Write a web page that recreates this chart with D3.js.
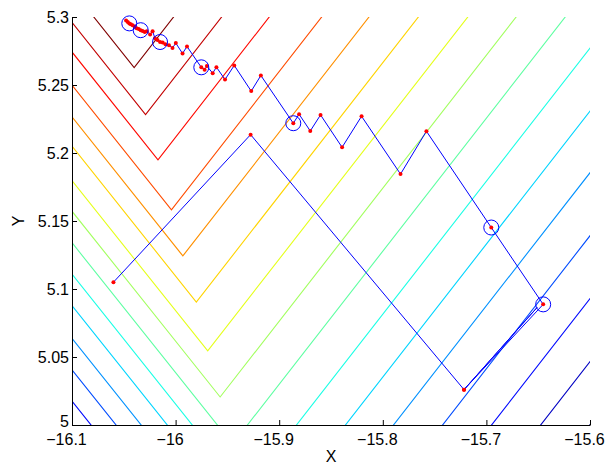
<!DOCTYPE html>
<html><head><meta charset="utf-8">
<script src="https://cdn.jsdelivr.net/npm/d3@7"></script>
<style>
body{margin:0;background:#fff;}
text{font-family:"Liberation Sans",Arial,Helvetica,sans-serif;}
</style>
</head><body><svg id="c" width="608" height="468"></svg>
<script>
// ---------- data ----------
const xTicks = [-16.1, -16, -15.9, -15.8, -15.7, -15.6];
const xTickLabels = ["\u221216.1", "\u221216", "\u221215.9", "\u221215.8", "\u221215.7", "\u221215.6"];
const yTicks = [5, 5.05, 5.1, 5.15, 5.2, 5.25, 5.3];
const yTickLabels = ["5", "5.05", "5.1", "5.15", "5.2", "5.25", "5.3"];

// contour levels (V-shaped): vertex of each level, high -> low
const levelVertexX = [-16.040, -16.029, -16.017, -16.004, -15.993, -15.980, -15.969, -15.957,
                      -15.945, -15.933, -15.921, -15.910, -15.898, -15.886, -15.874, -15.862];
const levelVertexY = [5.2628, 5.2282, 5.1950, 5.1582, 5.1243, 5.0904, 5.0545, 5.0206,
                      4.9860, 4.9514, 4.9169, 4.8823, 4.8477, 4.8132, 4.7786, 4.7440];
const leftBranchSlope = 0.955;
const rightBranchSlope = 0.978;

// search path
const pathX = [-16.060, -15.9276, -15.7216, -15.651, -15.7216, -15.6452, -15.6953, -15.7579,
               -15.7829, -15.8205, -15.8393, -15.8601, -15.870, -15.8808, -15.8864, -15.9177,
               -15.927, -15.9434, -15.9523, -15.9606, -15.9642, -15.9698, -15.972, -15.9752,
               -15.989, -15.9933, -15.9998, -16.003, -16.0064, -16.0098, -16.0125, -16.0150,
               -16.0175, -16.0199, -16.0222, -16.0246, -16.0278, -16.0298, -16.0318, -16.0337,
               -16.0356, -16.0376, -16.0395, -16.0415, -16.0432, -16.0447, -16.0462, -16.0478];
const pathY = [5.105, 5.2135, 5.026, 5.0865, 5.026, 5.0887, 5.1452, 5.216,
               5.1845, 5.227, 5.2042, 5.228, 5.2162, 5.2285, 5.2219, 5.257,
               5.2455, 5.2644, 5.254, 5.2631, 5.2587, 5.2639, 5.2612, 5.2630,
               5.2783, 5.2732, 5.2808, 5.2772, 5.2793, 5.2800, 5.2812, 5.2816,
               5.2830, 5.2843, 5.2896, 5.2872, 5.2895, 5.2890, 5.2897, 5.2903,
               5.2912, 5.2918, 5.2930, 5.2940, 5.2946, 5.2953, 5.2963, 5.2975];
const pathDot = [1,1,1,0,1,1,1,1, 1,1,1,1,1,1,1,1, 1,1,1,1,1,1,1,1,
                 1,1,1,1,1,1,1,1, 1,1,1,1,1,1,1,1, 1,1,1,1,1,1,1,1];

// accepted iterates (blue circles)
const circleX = [-15.6452, -15.6953, -15.8864, -15.9752, -16.0150, -16.0337, -16.0447];
const circleY = [5.0887, 5.1452, 5.2219, 5.2630, 5.2816, 5.2903, 5.2953];

// ---------- drawing ----------
const svg = d3.select("#c");
const L = 72, R = 590, T = 17, B = 425;
const x = d3.scaleLinear().domain([-16.1, -15.6]).range([L, R]);
const y = d3.scaleLinear().domain([5, 5.3]).range([B, T]);

svg.append("rect").attr("width", 608).attr("height", 468).attr("fill", "#fff");
svg.append("defs").append("clipPath").attr("id", "clip")
  .append("rect").attr("x", L).attr("y", T).attr("width", R - L).attr("height", B - T);

function jet(v) {
  const c = t => Math.max(0, Math.min(1, t));
  const r = c(1.5 - Math.abs(4 * v - 3)), g = c(1.5 - Math.abs(4 * v - 2)), b = c(1.5 - Math.abs(4 * v - 1));
  return d3.rgb(r * 255, g * 255, b * 255).formatHex();
}

const plot = svg.append("g").attr("clip-path", "url(#clip)");
const line = d3.line().x(d => x(d[0])).y(d => y(d[1]));
const n = levelVertexX.length;
levelVertexX.forEach((xv, i) => {
  const yv = levelVertexY[i];
  const xl = -16.3, xr = -15.4;
  const pts = [[xl, yv + leftBranchSlope * (xv - xl)], [xv, yv], [xr, yv + rightBranchSlope * (xr - xv)]];
  plot.append("path").attr("d", line(pts)).attr("fill", "none")
    .attr("stroke", jet(1 - i / (n - 1))).attr("stroke-width", 1.1);
});

const pathPts = pathX.map((v, i) => [v, pathY[i]]);
plot.append("path").attr("d", line(pathPts)).attr("fill", "none")
  .attr("stroke", "#0000ff").attr("stroke-width", 1);

plot.selectAll("circle.dot").data(pathPts.filter((d, i) => pathDot[i])).join("circle")
  .attr("class", "dot").attr("cx", d => x(d[0])).attr("cy", d => y(d[1])).attr("r", 2)
  .attr("fill", "#ff0000");

svg.selectAll("circle.acc").data(circleX.map((v, i) => [v, circleY[i]])).join("circle")
  .attr("class", "acc").attr("cx", d => x(d[0])).attr("cy", d => y(d[1])).attr("r", 7.5)
  .attr("fill", "none").attr("stroke", "#0000ff").attr("stroke-width", 1);

// axes
const xAxis = d3.axisBottom(x).tickValues(xTicks).tickFormat((d, i) => xTickLabels[i])
  .tickSizeInner(-5).tickSizeOuter(0).tickPadding(9);
const gx = svg.append("g").attr("transform", `translate(0,${B})`).call(xAxis);
const yAxis = d3.axisLeft(y).tickValues(yTicks).tickFormat((d, i) => yTickLabels[i])
  .tickSizeInner(-5).tickSizeOuter(0).tickPadding(3);
const gy = svg.append("g").attr("transform", `translate(${L},0)`).call(yAxis);
[gx, gy].forEach(g => {
  g.selectAll("text").attr("font-size", 16).attr("fill", "#000")
    .attr("font-family", "'Liberation Sans', Arial, sans-serif");
  g.selectAll("line").attr("stroke", "#000");
  g.select(".domain").attr("stroke", "#000");
});
// negative labels: digits centred on the tick, minus sign hanging to the left
gx.selectAll("text").attr("dx", -6);
// lowest y label sits slightly above its tick, clear of the x labels
gy.selectAll(".tick").filter(d => d === yTicks[0]).select("text").attr("y", -3.5);

svg.append("text").attr("x", (L + R) / 2).attr("y", 462).attr("text-anchor", "middle")
  .attr("font-size", 16).text("X");
svg.append("text").attr("transform", `translate(24,${(T + B) / 2}) rotate(-90)`)
  .attr("text-anchor", "middle").attr("font-size", 16).text("Y");
</script>
</body></html>
